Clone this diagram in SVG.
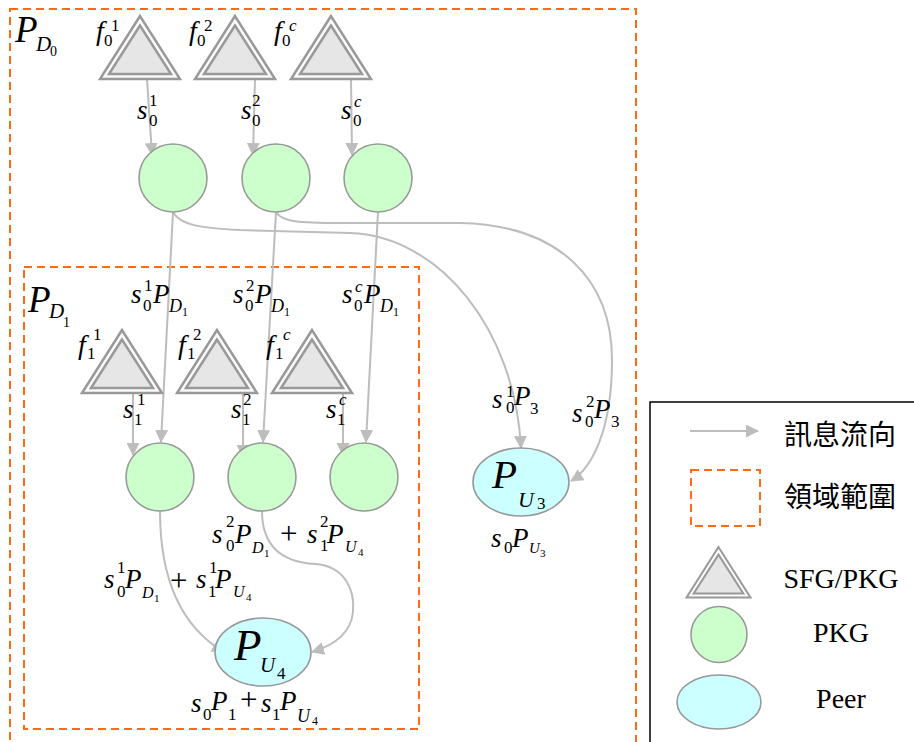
<svg xmlns="http://www.w3.org/2000/svg" xmlns:xlink="http://www.w3.org/1999/xlink" width="914" height="742" viewBox="0 0 914 742">
  <style>
    .region { fill: none; stroke: #ff6a13; stroke-width: 2; stroke-dasharray: 8 5; }
    .pkg { fill: #ccffcc; stroke: #999; stroke-width: 1.6; }
    .peer { fill: #ccffff; stroke: #999; stroke-width: 1.6; }
    .tri-out { fill: #fafafa; stroke: #999; stroke-width: 2.5; stroke-linejoin: miter; }
    .tri-in { fill: #e6e6e6; stroke: #999; stroke-width: 2.5; stroke-linejoin: miter; }
    .edge { fill: none; stroke: #bdbdbd; stroke-width: 2; marker-end: url(#arr); }
    .v { font-family: "Liberation Serif", serif; font-style: italic; font-size: 27px; fill: #000; }
    .f { font-family: "Liberation Serif", serif; font-style: italic; font-size: 28px; fill: #000; }
    .big { font-family: "Liberation Serif", serif; font-style: italic; font-size: 37px; fill: #000; }
    .n { font-family: "Liberation Serif", serif; font-size: 17px; fill: #000; }
    .ni { font-family: "Liberation Serif", serif; font-style: italic; font-size: 17px; fill: #000; }
    .sub { font-family: "Liberation Serif", serif; font-style: italic; font-size: 18px; fill: #000; }
    .ss { font-family: "Liberation Serif", serif; font-size: 12px; fill: #000; }
    .op { font-family: "Liberation Serif", serif; font-size: 31px; fill: #000; }
    .cjk { font-family: "Liberation Serif", "Noto Sans CJK TC", sans-serif; font-size: 28px; fill: #000; }
    .leg { font-family: "Liberation Serif", serif; font-size: 28px; fill: #000; text-anchor: middle; }
  </style>
  <defs>
    <marker id="arr" markerUnits="userSpaceOnUse" markerWidth="14" markerHeight="13" refX="12" refY="6.5" orient="auto">
      <path d="M0,0 L13,6.5 L0,13 z" fill="#bdbdbd"/>
    </marker>
    <!-- double-outlined triangle, apex at origin -->
    <g id="tri">
      <polygon class="tri-out" points="0,0 -40,63 40,63"/>
      <polygon class="tri-in" points="0,9.5 -31,58 31,58"/>
    </g>
  </defs>

  <rect width="914" height="742" fill="#fff"/>

  <!-- regions -->
  <g id="region-D0">
    <rect class="region" x="10" y="9" width="626" height="760"/>
    <text class="big" x="15" y="42">P</text>
    <text class="sub" x="36" y="51" style="font-size:21px">D</text>
    <text class="n" x="50" y="56" style="font-size:14px">0</text>
  </g>
  <g id="region-D1">
    <rect class="region" x="24" y="267" width="395" height="462"/>
    <text class="big" x="28" y="312">P</text>
    <text class="sub" x="49" y="318" style="font-size:21px">D</text>
    <text class="n" x="63" y="327" style="font-size:14px">1</text>
  </g>

  <!-- connectors -->
  <g id="connectors">
    <path class="edge" d="M147,79 L152,155"/>
    <path class="edge" d="M255,79 L253,155"/>
    <path class="edge" d="M351,79 L352,155"/>
    <path class="edge" d="M173,212 L161,442"/>
    <path class="edge" d="M276,212 L263,442"/>
    <path class="edge" d="M378,212 L366,442"/>
    <path class="edge" d="M133,392 L133,455"/>
    <path class="edge" d="M243,392 L243,457"/>
    <path class="edge" d="M343,392 L343,455"/>
    <path class="edge" d="M173,212 C180,225 200,228 240,230 L350,233 C440,236 515,330 521,448"/>
    <path class="edge" d="M276,212 C282,222 300,223 340,223 L460,223 C560,225 612,280 612,360 C612,430 592,468 571,481"/>
    <path class="edge" d="M160,511 C160,560 170,620 224,652"/>
    <path class="edge" d="M262,511 C262,545 280,562 315,564 C345,566 355,590 353,612 C351,632 335,645 312,652"/>
  </g>

  <!-- domain D0 sources -->
  <g id="sfg-f0-1">
    <use xlink:href="#tri" x="140" y="16"/>
    <text class="f" x="96" y="40">f</text><text class="n" x="111" y="31">1</text><text class="n" x="104" y="46">0</text>
  </g>
  <g id="sfg-f0-2">
    <use xlink:href="#tri" x="235" y="16"/>
    <text class="f" x="189" y="40">f</text><text class="n" x="204" y="31">2</text><text class="n" x="197" y="46">0</text>
  </g>
  <g id="sfg-f0-c">
    <use xlink:href="#tri" x="331" y="16"/>
    <text class="f" x="274" y="40">f</text><text class="ni" x="289" y="31">c</text><text class="n" x="282" y="46">0</text>
  </g>

  <g id="pkg-0-1"><circle class="pkg" cx="173" cy="178" r="34"/></g>
  <g id="pkg-0-2"><circle class="pkg" cx="276" cy="178" r="34"/></g>
  <g id="pkg-0-c"><circle class="pkg" cx="378" cy="178" r="34"/></g>

  <!-- domain D1 sources -->
  <g id="sfg-f1-1">
    <use xlink:href="#tri" x="122" y="330"/>
    <text class="f" x="78" y="354">f</text><text class="n" x="93" y="340">1</text><text class="n" x="87" y="359">1</text>
  </g>
  <g id="sfg-f1-2">
    <use xlink:href="#tri" x="217" y="330"/>
    <text class="f" x="178" y="354">f</text><text class="n" x="193" y="340">2</text><text class="n" x="187" y="359">1</text>
  </g>
  <g id="sfg-f1-c">
    <use xlink:href="#tri" x="312" y="330"/>
    <text class="f" x="266" y="354">f</text><text class="ni" x="283" y="340">c</text><text class="n" x="275" y="359">1</text>
  </g>

  <g id="pkg-1-1"><circle class="pkg" cx="160" cy="477" r="34"/></g>
  <g id="pkg-1-2"><circle class="pkg" cx="262" cy="477" r="34"/></g>
  <g id="pkg-1-c"><circle class="pkg" cx="364" cy="477" r="34"/></g>

  <!-- peers -->
  <g id="peer-U3">
    <ellipse class="peer" cx="521" cy="482" rx="48" ry="34"/>
    <text class="big" x="492" y="488" style="font-size:41px">P</text>
    <text class="sub" x="518" y="507" style="font-size:22px">U</text>
    <text class="n" x="537" y="509">3</text>
  </g>
  <g id="peer-U4">
    <ellipse class="peer" cx="263" cy="652" rx="48" ry="34"/>
    <text class="big" x="234" y="660" style="font-size:45px">P</text>
    <text class="sub" x="260" y="672" style="font-size:21px">U</text>
    <text class="n" x="277" y="679">4</text>
  </g>

  <!-- connector labels -->
  <g id="labels">
    <text class="v" x="137" y="119">s</text><text class="n" x="149" y="106">1</text><text class="n" x="149" y="126">0</text>
    <text class="v" x="241" y="119">s</text><text class="n" x="252" y="106">2</text><text class="n" x="252" y="126">0</text>
    <text class="v" x="341" y="119">s</text><text class="ni" x="354" y="107">c</text><text class="n" x="353" y="126">0</text>

    <text class="v" x="131" y="303">s</text><text class="n" x="144" y="291">1</text><text class="n" x="143" y="311">0</text>
    <text class="v" x="153" y="303">P</text><text class="sub" x="169" y="312">D</text><text class="ss" x="182" y="316">1</text>
    <text class="v" x="233" y="303">s</text><text class="n" x="246" y="291">2</text><text class="n" x="245" y="311">0</text>
    <text class="v" x="255" y="303">P</text><text class="sub" x="271" y="312">D</text><text class="ss" x="284" y="316">1</text>
    <text class="v" x="342" y="303">s</text><text class="ni" x="355" y="292">c</text><text class="n" x="354" y="311">0</text>
    <text class="v" x="364" y="303">P</text><text class="sub" x="380" y="312">D</text><text class="ss" x="393" y="316">1</text>

    <text class="v" x="123" y="418">s</text><text class="n" x="137" y="405">1</text><text class="n" x="134" y="425">1</text>
    <text class="v" x="231" y="418">s</text><text class="n" x="243" y="405">2</text><text class="n" x="242" y="425">1</text>
    <text class="v" x="326" y="418">s</text><text class="ni" x="339" y="405">c</text><text class="n" x="337" y="425">1</text>

    <text class="v" x="212" y="543">s</text><text class="n" x="226" y="527">2</text><text class="n" x="226" y="551">0</text>
    <text class="v" x="235" y="543">P</text><text class="sub" x="252" y="553" style="font-size:16px">D</text><text class="ss" x="264" y="557" style="font-size:11px">1</text>
    <text class="op" x="280" y="544">+</text>
    <text class="v" x="307" y="543">s</text><text class="n" x="320" y="527">2</text><text class="n" x="320" y="551">1</text>
    <text class="v" x="327" y="543">P</text><text class="sub" x="345" y="552" style="font-size:16px">U</text><text class="ss" x="358" y="556" style="font-size:11px">4</text>

    <text class="v" x="104" y="588">s</text><text class="n" x="117" y="573">1</text><text class="n" x="117" y="597">0</text>
    <text class="v" x="125" y="588">P</text><text class="sub" x="142" y="598" style="font-size:16px">D</text><text class="ss" x="154" y="602" style="font-size:11px">1</text>
    <text class="op" x="170" y="591">+</text>
    <text class="v" x="196" y="588">s</text><text class="n" x="209" y="573">1</text><text class="n" x="208" y="597">1</text>
    <text class="v" x="215" y="588">P</text><text class="sub" x="233" y="597" style="font-size:16px">U</text><text class="ss" x="246" y="601" style="font-size:11px">4</text>

    <text class="v" x="191" y="712">s</text><text class="n" x="203" y="720">0</text>
    <text class="v" x="211" y="710">P</text><text class="n" x="228" y="720">1</text>
    <text class="op" x="240" y="710">+</text>
    <text class="v" x="261" y="712">s</text><text class="n" x="272" y="720">1</text>
    <text class="v" x="280" y="710">P</text><text class="sub" x="297" y="722">U</text><text class="ss" x="312" y="725">4</text>

    <text class="v" x="491" y="547">s</text><text class="n" x="504" y="553">0</text>
    <text class="v" x="512" y="547">P</text><text class="sub" x="529" y="553" style="font-size:15px">U</text><text class="ss" x="540" y="557" style="font-size:11px">3</text>

    <text class="v" x="492" y="408">s</text><text class="n" x="506" y="397">1</text><text class="n" x="506" y="413">0</text>
    <text class="v" x="514" y="405">P</text><text class="n" x="530" y="414">3</text>

    <text class="v" x="572" y="422">s</text><text class="n" x="586" y="407">2</text><text class="n" x="585" y="427">0</text>
    <text class="v" x="594" y="418">P</text><text class="n" x="611" y="427">3</text>
  </g>

  <!-- legend -->
  <g id="legend">
    <rect x="650" y="402" width="300" height="400" fill="none" stroke="#000" stroke-width="1.5"/>
    <path class="edge" d="M690,431 L758,431"/>
    <text class="cjk" x="784" y="445">訊息流向</text>
    <rect class="region" x="691" y="470" width="69" height="56"/>
    <text class="cjk" x="784" y="507">領域範圍</text>
    <use xlink:href="#tri" transform="translate(718.5,547) scale(0.8)"/>
    <text class="leg" x="841" y="588">SFG/PKG</text>
    <circle class="pkg" cx="719" cy="634.5" r="28"/>
    <text class="leg" x="841" y="642">PKG</text>
    <ellipse class="peer" cx="719" cy="702" rx="42" ry="27"/>
    <text class="leg" x="841" y="708">Peer</text>
  </g>
</svg>
